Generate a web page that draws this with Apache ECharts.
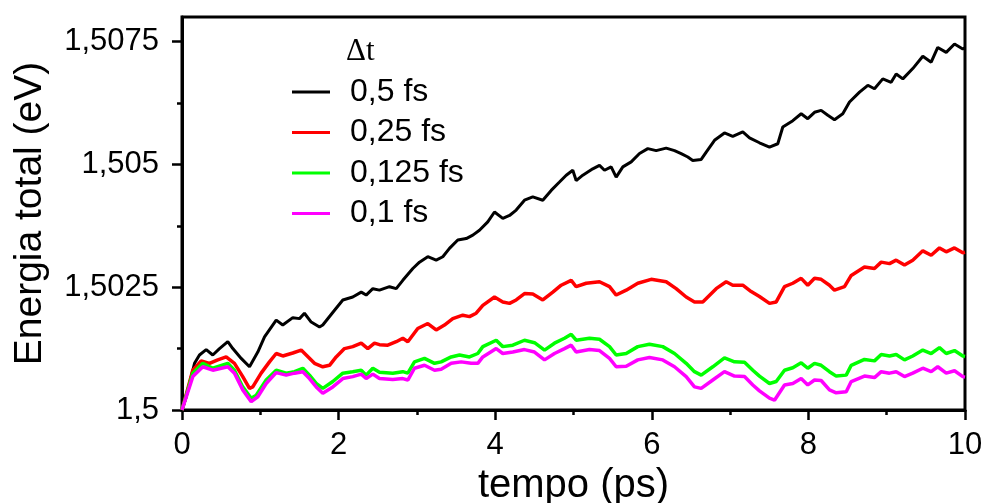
<!DOCTYPE html>
<html>
<head>
<meta charset="utf-8">
<script src="https://cdn.jsdelivr.net/npm/echarts@6/dist/echarts.min.js"></script>
<style>
  html, body { margin: 0; padding: 0; background: #fff; }
  #chart { width: 985px; height: 503px; }
</style>
</head>
<body>
<div id="chart"></div>
<script>
// Total energy vs. simulation time for four integration time steps.
// Each series: [time (ps), total energy (eV)]
const seriesNames = ['0,5 fs', '0,25 fs', '0,125 fs', '0,1 fs'];
const seriesColors = ['#000000', '#ff0000', '#00ff00', '#ff00ff'];

const dt05 = [[0,1.5],[0.054,1.50027],[0.160,1.50095],[0.223,1.50112],[0.309,1.50123],[0.393,1.50112],[0.479,1.50125],[0.585,1.50139],[0.649,1.50125],[0.756,1.50105],[0.862,1.50088],[0.884,1.50085],[0.968,1.50118],[1.054,1.50149],[1.203,1.50183],[1.287,1.50173],[1.415,1.50188],[1.501,1.50186],[1.564,1.50197],[1.650,1.50179],[1.756,1.50169],[1.798,1.50173],[1.948,1.50203],[2.054,1.50224],[2.181,1.50230],[2.289,1.50240],[2.352,1.50234],[2.437,1.50247],[2.522,1.50244],[2.650,1.50251],[2.736,1.50247],[2.820,1.50264],[2.948,1.50288],[3.033,1.50301],[3.139,1.50312],[3.246,1.50305],[3.331,1.50312],[3.416,1.50329],[3.522,1.50346],[3.630,1.50349],[3.714,1.50356],[3.799,1.50366],[3.905,1.50383],[3.991,1.50403],[4.097,1.50390],[4.183,1.50396],[4.268,1.50407],[4.374,1.50427],[4.480,1.50434],[4.608,1.50427],[4.715,1.50447],[4.821,1.50464],[4.907,1.50478],[4.991,1.50488],[5.034,1.50467],[5.119,1.50478],[5.246,1.50491],[5.332,1.50498],[5.396,1.50488],[5.481,1.50495],[5.545,1.50474],[5.630,1.50495],[5.737,1.50505],[5.843,1.50522],[5.949,1.50532],[6.056,1.50528],[6.184,1.50533],[6.290,1.50528],[6.375,1.50522],[6.460,1.50515],[6.523,1.50508],[6.631,1.50510],[6.695,1.50525],[6.801,1.50549],[6.928,1.50564],[7.034,1.50557],[7.162,1.50566],[7.248,1.50554],[7.375,1.50544],[7.503,1.50535],[7.609,1.50542],[7.673,1.50576],[7.801,1.50589],[7.908,1.50603],[7.992,1.50593],[8.078,1.50606],[8.163,1.50610],[8.248,1.50600],[8.333,1.50591],[8.439,1.50603],[8.525,1.50627],[8.653,1.50647],[8.759,1.50661],[8.844,1.50654],[8.950,1.50674],[9.057,1.50667],[9.121,1.50684],[9.206,1.50674],[9.333,1.50695],[9.461,1.50720],[9.568,1.50708],[9.652,1.50738],[9.760,1.50728],[9.866,1.50745],[9.972,1.50735],[10,1.50737]];

const dt025 = [[0,1.5],[0.138,1.50081],[0.245,1.50100],[0.351,1.50095],[0.457,1.50102],[0.564,1.50108],[0.670,1.50095],[0.776,1.50068],[0.862,1.50044],[0.904,1.50047],[1.011,1.50075],[1.117,1.50098],[1.203,1.50115],[1.287,1.50110],[1.415,1.50116],[1.522,1.50122],[1.586,1.50112],[1.692,1.50095],[1.798,1.50088],[1.884,1.50091],[1.969,1.50108],[2.075,1.50125],[2.181,1.50129],[2.289,1.50136],[2.373,1.50125],[2.458,1.50136],[2.522,1.50133],[2.628,1.50132],[2.736,1.50139],[2.820,1.50146],[2.884,1.50139],[3.011,1.50166],[3.139,1.50176],[3.246,1.50163],[3.352,1.50173],[3.458,1.50186],[3.586,1.50193],[3.672,1.50190],[3.757,1.50197],[3.842,1.50213],[3.991,1.50230],[4.097,1.50220],[4.183,1.50217],[4.268,1.50224],[4.374,1.50237],[4.480,1.50236],[4.608,1.50224],[4.736,1.50240],[4.843,1.50254],[4.971,1.50264],[5.034,1.50251],[5.162,1.50258],[5.332,1.50261],[5.460,1.50251],[5.545,1.50234],[5.673,1.50244],[5.821,1.50258],[5.992,1.50266],[6.184,1.50261],[6.311,1.50247],[6.439,1.50230],[6.545,1.50220],[6.651,1.50220],[6.822,1.50247],[6.950,1.50261],[7.034,1.50254],[7.162,1.50254],[7.269,1.50241],[7.375,1.50231],[7.503,1.50217],[7.589,1.50220],[7.695,1.50251],[7.801,1.50258],[7.908,1.50268],[7.992,1.50254],[8.078,1.50268],[8.163,1.50266],[8.269,1.50254],[8.333,1.50244],[8.461,1.50251],[8.547,1.50274],[8.716,1.50291],[8.844,1.50288],[8.930,1.50301],[9.036,1.50298],[9.121,1.50305],[9.227,1.50295],[9.333,1.50305],[9.461,1.50324],[9.568,1.50315],[9.674,1.50330],[9.760,1.50322],[9.866,1.50330],[9.972,1.50320],[10,1.50321]];

const dt0125 = [[0,1.5],[0.138,1.50075],[0.266,1.50095],[0.393,1.50085],[0.585,1.50095],[0.670,1.50081],[0.776,1.50047],[0.884,1.50024],[0.948,1.50030],[1.075,1.50061],[1.203,1.50081],[1.331,1.50075],[1.437,1.50078],[1.543,1.50085],[1.628,1.50071],[1.714,1.50054],[1.798,1.50044],[1.926,1.50058],[2.054,1.50075],[2.181,1.50078],[2.289,1.50081],[2.352,1.50071],[2.437,1.50085],[2.522,1.50077],[2.692,1.50075],[2.820,1.50078],[2.884,1.50075],[2.969,1.50098],[3.097,1.50105],[3.225,1.50095],[3.310,1.50098],[3.438,1.50108],[3.544,1.50112],[3.672,1.50108],[3.778,1.50115],[3.842,1.50129],[4.013,1.50142],[4.097,1.50129],[4.225,1.50132],[4.374,1.50142],[4.502,1.50137],[4.630,1.50122],[4.757,1.50136],[4.885,1.50146],[4.971,1.50154],[5.034,1.50142],[5.204,1.50146],[5.332,1.50144],[5.460,1.50129],[5.545,1.50112],[5.673,1.50115],[5.821,1.50129],[5.970,1.50134],[6.140,1.50129],[6.290,1.50115],[6.439,1.50095],[6.545,1.50078],[6.631,1.50071],[6.779,1.50088],[6.928,1.50106],[7.056,1.50098],[7.184,1.50097],[7.290,1.50081],[7.375,1.50069],[7.503,1.50054],[7.589,1.50058],[7.695,1.50081],[7.801,1.50086],[7.908,1.50096],[7.992,1.50085],[8.078,1.50095],[8.163,1.50091],[8.269,1.50078],[8.355,1.50069],[8.483,1.50071],[8.547,1.50091],[8.716,1.50103],[8.844,1.50100],[8.930,1.50113],[9.036,1.50110],[9.121,1.50113],[9.227,1.50102],[9.333,1.50110],[9.461,1.50122],[9.568,1.50115],[9.674,1.50127],[9.760,1.50115],[9.866,1.50121],[9.972,1.50110],[10,1.50109]];

const dt01 = [[0,1.5],[0.138,1.50068],[0.266,1.50088],[0.393,1.50081],[0.585,1.50088],[0.670,1.50075],[0.776,1.50041],[0.884,1.50017],[0.968,1.50027],[1.075,1.50054],[1.203,1.50076],[1.331,1.50071],[1.437,1.50075],[1.543,1.50078],[1.628,1.50064],[1.714,1.50047],[1.798,1.50034],[1.926,1.50047],[2.054,1.50064],[2.181,1.50068],[2.289,1.50073],[2.352,1.50064],[2.437,1.50073],[2.522,1.50064],[2.692,1.50062],[2.820,1.50064],[2.884,1.50061],[2.969,1.50085],[3.097,1.50091],[3.225,1.50081],[3.310,1.50083],[3.438,1.50095],[3.566,1.50098],[3.693,1.50095],[3.778,1.50095],[3.842,1.50108],[4.013,1.50125],[4.097,1.50115],[4.225,1.50118],[4.374,1.50123],[4.502,1.50118],[4.630,1.50102],[4.757,1.50115],[4.885,1.50125],[4.971,1.50132],[5.034,1.50118],[5.204,1.50123],[5.332,1.50121],[5.460,1.50105],[5.545,1.50088],[5.673,1.50089],[5.821,1.50102],[5.970,1.50107],[6.140,1.50102],[6.290,1.50088],[6.439,1.50068],[6.545,1.50047],[6.631,1.50044],[6.779,1.50061],[6.928,1.50078],[7.056,1.50069],[7.184,1.50068],[7.290,1.50051],[7.375,1.50039],[7.503,1.50024],[7.567,1.50020],[7.695,1.50051],[7.801,1.50054],[7.908,1.50064],[7.992,1.50051],[8.078,1.50061],[8.163,1.50060],[8.269,1.50041],[8.355,1.50035],[8.483,1.50037],[8.547,1.50058],[8.716,1.50069],[8.844,1.50066],[8.930,1.50078],[9.036,1.50075],[9.121,1.50078],[9.227,1.50068],[9.333,1.50075],[9.461,1.50085],[9.568,1.50078],[9.652,1.50088],[9.760,1.50075],[9.866,1.50080],[9.972,1.50068],[10,1.50067]];

const seriesData = [dt05, dt025, dt0125, dt01];

const yMajorTicks = [1.5, 1.5025, 1.505, 1.5075];
const yMinorTicks = [1.50125, 1.50375, 1.50625];

const sans = 'Liberation Sans, Arial, Helvetica, sans-serif';
const fmtComma = v => String(v).replace('.', ',');

const chart = echarts.init(document.getElementById('chart'), null, { renderer: 'canvas' });

chart.setOption({
  animation: false,
  backgroundColor: '#ffffff',
  title: {
    text: 'Δt',
    left: 346,
    top: 36,
    padding: 0,
    textStyle: { fontFamily: 'Liberation Serif, Times New Roman, serif', fontSize: 31, fontWeight: 'normal', color: '#000' }
  },
  legend: {
    orient: 'vertical',
    left: 292,
    top: 76,
    padding: 0,
    itemGap: 8.5,
    itemWidth: 38,
    itemHeight: 3,
    icon: 'rect',
    data: seriesNames,
    textStyle: { fontFamily: sans, fontSize: 32, lineHeight: 30, color: '#000', padding: [0, 0, 0, 15] }
  },
  grid: {
    left: 182, right: 20, top: 17, bottom: 93,
    outerBoundsMode: 'none',
    containLabel: false,
    show: true, borderColor: '#000', borderWidth: 3, backgroundColor: 'transparent'
  },
  xAxis: {
    type: 'value',
    min: 0, max: 10, interval: 2,
    name: 'tempo (ps)',
    nameLocation: 'middle',
    nameGap: 52,
    nameTextStyle: { fontFamily: sans, fontSize: 40, color: '#000' },
    axisLine: { show: true, lineStyle: { color: '#000', width: 3 } },
    axisTick: { show: true, length: 10, lineStyle: { color: '#000', width: 2.5 } },
    minorTick: { show: true, splitNumber: 2, length: 5, lineStyle: { color: '#000', width: 2.5 } },
    axisLabel: { fontFamily: sans, fontSize: 31, color: '#000', margin: 20 },
    splitLine: { show: false },
    minorSplitLine: { show: false }
  },
  yAxis: [
    {
      type: 'value',
      min: 1.5, max: 1.508, interval: 0.0025,
      name: 'Energia total (eV)',
      nameLocation: 'middle',
      nameGap: 132,
      nameTextStyle: { fontFamily: sans, fontSize: 39, color: '#000' },
      axisLine: { show: true, lineStyle: { color: '#000', width: 3 } },
      axisTick: { show: true, length: 10, lineStyle: { color: '#000', width: 2.5 }, customValues: yMajorTicks },
      axisLabel: { fontFamily: sans, fontSize: 31, color: '#000', margin: 23, customValues: yMajorTicks, formatter: fmtComma },
      splitLine: { show: false }
    },
    {
      // short ticks between the labelled ones
      type: 'value',
      position: 'left',
      min: 1.5, max: 1.508,
      axisLine: { show: false },
      axisTick: { show: true, length: 5, lineStyle: { color: '#000', width: 2.5 }, customValues: yMinorTicks },
      axisLabel: { show: false },
      splitLine: { show: false }
    }
  ],
  series: seriesData.map((d, i) => ({
    name: seriesNames[i],
    type: 'line',
    yAxisIndex: 0,
    data: d,
    showSymbol: false,
    symbol: 'none',
    smooth: false,
    color: seriesColors[i],
    lineStyle: { color: seriesColors[i], width: i === 0 ? 3 : 3.5 },
    itemStyle: { color: seriesColors[i] },
    z: 2 + i
  }))
});
</script>
</body>
</html>
